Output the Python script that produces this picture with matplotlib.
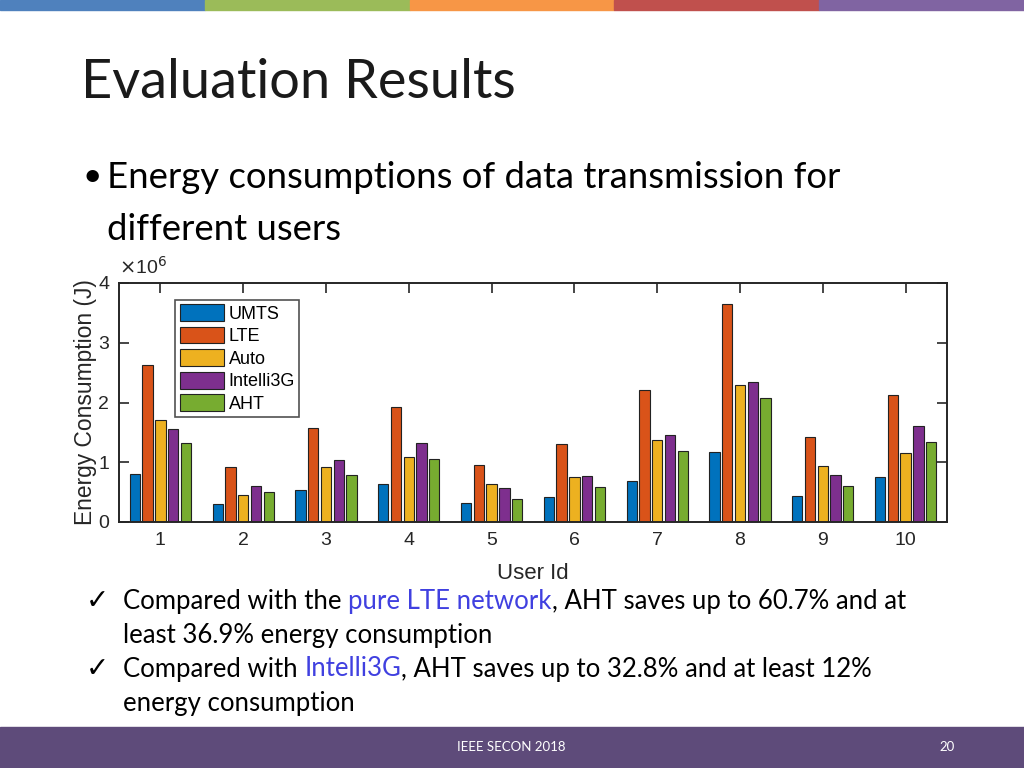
import numpy as np
import matplotlib
matplotlib.use('Agg')
from matplotlib import pyplot as plt
from matplotlib.patches import Rectangle

# data (units of 1e6 J)
users = [1, 2, 3, 4, 5, 6, 7, 8, 9, 10]
series = ['UMTS', 'LTE', 'Auto', 'Intelli3G', 'AHT']
umts = [0.80, 0.30, 0.53, 0.63, 0.31, 0.42, 0.69, 1.17, 0.43, 0.75]
lte = [2.62, 0.92, 1.57, 1.92, 0.96, 1.31, 2.21, 3.65, 1.42, 2.13]
auto = [1.70, 0.45, 0.92, 1.08, 0.63, 0.75, 1.38, 2.29, 0.93, 1.15]
intelli = [1.55, 0.60, 1.04, 1.32, 0.57, 0.77, 1.45, 2.34, 0.78, 1.61]
aht = [1.32, 0.50, 0.78, 1.05, 0.38, 0.59, 1.19, 2.07, 0.61, 1.34]
colors = ['#0072BD', '#D95319', '#EDB120', '#7E2F8E', '#77AC30']

stripe = ['#4F81BD', '#9BBB59', '#F79646', '#C0504D', '#8064A2']
FONT = ['Lato', 'DejaVu Sans']
ARIAL = ['Liberation Sans', 'DejaVu Sans']

fig = plt.figure(figsize=(10.24, 7.68), dpi=100)
fig.patch.set_facecolor('white')

# top colour stripe
for i, c in enumerate(stripe):
    fig.patches.append(Rectangle((i / 5, 1 - 10 / 768), 1 / 5, 10 / 768,
                                 transform=fig.transFigure, color=c, zorder=0))
# footer band
fig.patches.append(Rectangle((0, 0), 1, 41 / 768, transform=fig.transFigure,
                             color='#5E4B7A', zorder=0))
fig.text(511 / 1024, 21 / 768, 'IEEE SECON 2018', color='white', fontsize=9.5,
         family=FONT, ha='center', va='center')
fig.text(947 / 1024, 21 / 768, '20', color='white', fontsize=9.5,
         family=FONT, ha='center', va='center')

# title and bullet
fig.text(81 / 1024, 1 - 82 / 768, 'Evaluation Results', fontsize=39,
         family=FONT, color='#1a1a1a', va='center')
fig.text(82 / 1024, 1 - 177 / 768, '\u2022', fontsize=24, family=FONT,
         color='black', va='center')
fig.text(107 / 1024, 1 - 177 / 768, 'Energy consumptions of data transmission for',
         fontsize=26.3, family=FONT, color='black', va='center')
fig.text(107 / 1024, 1 - 230 / 768, 'different users',
         fontsize=26.3, family=FONT, color='black', va='center')

# chart
ax = fig.add_axes([119 / 1024, 246 / 768, 828 / 1024, 239 / 768])
vals = [umts, lte, auto, intelli, aht]
x = np.array(users)
step = 0.154
for k, (name, v, c) in enumerate(zip(series, vals, colors)):
    ax.bar(x + (k - 2) * step, v, width=0.125, color=c, edgecolor='#222222',
           linewidth=0.8, label=name)
ax.set_xlim(0.5, 10.5)
ax.set_ylim(0, 4)
ax.set_xticks(users)
ax.set_yticks([0, 1, 2, 3, 4])
ax.tick_params(direction='in', length=7, width=1.2, top=True, right=True,
               labelsize=14, colors='#262626', pad=7)
ax.tick_params(axis='x', bottom=False)
for lab in ax.get_xticklabels() + ax.get_yticklabels():
    lab.set_family(ARIAL)
for s in ax.spines.values():
    s.set_linewidth(1.4)
    s.set_color('#262626')
ax.set_xlabel('User Id', fontsize=16, family=ARIAL, color='#262626', labelpad=10)
ax.set_ylabel('Energy Consumption (J)', fontsize=16.4, family=ARIAL,
              color='#262626', labelpad=1)
ax.text(0.0, 1.02, r'$\times$10$^6$', transform=ax.transAxes, fontsize=14,
        family=ARIAL, color='#262626', va='bottom', ha='left')
leg = ax.legend(loc='upper left', bbox_to_anchor=(0.068, 0.93),
                prop={'family': ARIAL, 'size': 13}, frameon=True, fancybox=False,
                handlelength=2.45, handleheight=1.05, handletextpad=0.25,
                labelspacing=0.22, borderpad=0.25, borderaxespad=0)
leg.get_frame().set_edgecolor('#262626')
leg.get_frame().set_linewidth(1.2)

# check list with coloured words
renderer = fig.canvas.get_renderer()
blue = '#4040E0'
lines = [
    (601, True, [('Compared with the ', 'black'), ('pure LTE network', blue),
                 (', AHT saves up to 60.7% and at', 'black')]),
    (635, False, [('least 36.9% energy consumption', 'black')]),
    (669, True, [('Compared with ', 'black'), ('Intelli3G', blue),
                 (', AHT saves up to 32.8% and at least 12%', 'black')]),
    (703, False, [('energy consumption', 'black')]),
]
for ypix, check, parts in lines:
    yf = 1 - ypix / 768
    if check:
        fig.text(86 / 1024, yf, '\u2713', fontsize=20, family=['DejaVu Sans'],
                 color='black', va='center')
    xf = 123 / 1024
    for txt, col in parts:
        t = fig.text(xf, yf, txt, fontsize=18.5, family=FONT, color=col,
                     va='center')
        bb = t.get_window_extent(renderer)
        xf += bb.width / fig.bbox.width

fig.savefig('out.png', dpi=100)
